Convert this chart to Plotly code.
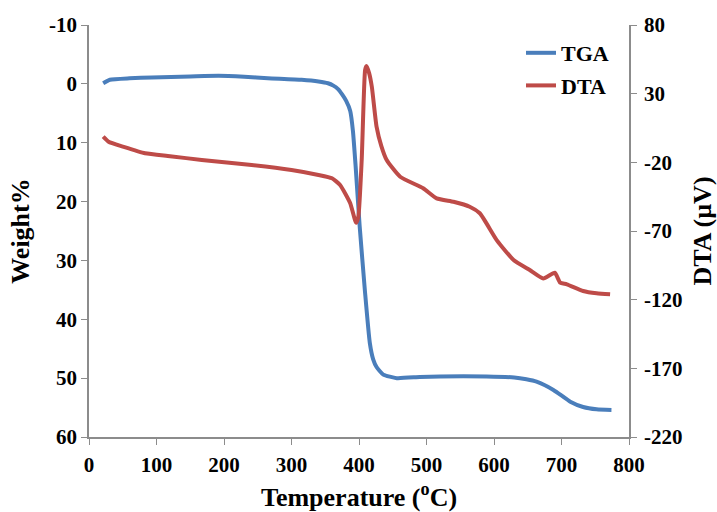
import plotly.graph_objects as go

tga_temp = [21, 31, 60, 93, 150, 192, 230, 265, 315, 340, 354, 362, 369, 375, 381, 387, 391, 395, 401, 409, 416, 421, 426, 436, 456, 490, 520, 589, 630, 648, 663, 688, 713, 732, 752, 774]
tga_weight = [-0.1, -0.7, -0.95, -1.1, -1.25, -1.36, -1.2, -0.96, -0.68, -0.4, -0.1, 0.3, 0.9, 1.8, 2.9, 4.6, 8.0, 14.0, 24.2, 35.5, 44.0, 46.8, 48.1, 49.4, 50.0, 49.8, 49.7, 49.7, 49.9, 50.2, 50.6, 52.0, 54.0, 54.9, 55.3, 55.4]

dta_temp = [21, 29, 50, 83, 120, 167, 241, 300, 340, 360, 372, 387, 395.6, 399, 404, 409, 411, 415, 419, 426, 433, 441, 461, 495, 515, 540, 564, 579, 604, 629, 653, 673, 690, 698, 708, 732, 752, 772]
dta_uv = [-1.3, -5, -8.5, -13.4, -15.5, -18.3, -21.9, -25.6, -29.2, -31.6, -36.5, -49.8, -64, -59.6, -18.3, 47.2, 50.1, 45, 35, 6, -8, -18.3, -30.5, -38.9, -46.2, -48.7, -52.3, -57.1, -76.6, -91.1, -98.4, -104.5, -100.4, -107.6, -108.8, -113.7, -115.4, -116.1]

x_ticks = [0, 100, 200, 300, 400, 500, 600, 700, 800]
left_ticks = [-10, 0, 10, 20, 30, 40, 50, 60]
right_ticks = [80, 30, -20, -70, -120, -170, -220]

FONT = "Liberation Serif"
AX = "#8c8c8c"

fig = go.Figure()
fig.add_trace(go.Scatter(x=tga_temp, y=tga_weight, mode="lines", name="<b>TGA</b>",
                         line=dict(color="#4A7EBB", width=4, shape="spline", smoothing=0.5),
                         legendgroup="a", yaxis="y"))
fig.add_trace(go.Scatter(x=dta_temp, y=dta_uv, mode="lines", name="<b>DTA</b>",
                         line=dict(color="#BE4B48", width=4, shape="spline", smoothing=0.5),
                         legendgroup="b", yaxis="y2"))

tickfont = dict(family=FONT, size=21, color="black")
titlefont = dict(family=FONT, size=26, color="black")

fig.update_layout(
    width=717, height=512,
    margin=dict(l=89, r=88, t=25, b=75),
    paper_bgcolor="white", plot_bgcolor="white",
    font=dict(family=FONT, color="black"),
    showlegend=True,
    legend=dict(x=0.80, y=0.983, xanchor="left", yanchor="top",
                font=dict(family=FONT, size=22, color="black"),
                tracegroupgap=1, bgcolor="rgba(0,0,0,0)"),
    xaxis=dict(range=[0, 800], tickvals=x_ticks, ticktext=[f"<b>{v}</b>" for v in x_ticks],
               showline=True, linecolor=AX, linewidth=1.5, ticks="outside", tickcolor=AX,
               ticklen=6, showgrid=False, zeroline=False, tickfont=tickfont, automargin=False,
               ticklabelstandoff=2,
               title=dict(text="<b>Temperature (<sup>o</sup>C)</b>", font=titlefont, standoff=20)),
    yaxis=dict(range=[60, -10], tickvals=left_ticks, ticktext=[f"<b>{v}</b>" for v in left_ticks],
               showline=True, linecolor=AX, linewidth=1.5, ticks="outside", tickcolor=AX,
               ticklen=6, showgrid=False, zeroline=False, tickfont=tickfont, automargin=False,
               title=dict(text="<b>Weight%</b>", font=titlefont, standoff=12)),
    yaxis2=dict(range=[-220, 80], tickvals=right_ticks, ticktext=[f"<b>{v}</b>" for v in right_ticks],
                overlaying="y", side="right",
                showline=True, linecolor=AX, linewidth=1.5, ticks="outside", tickcolor=AX,
                ticklen=6, showgrid=False, zeroline=False, tickfont=tickfont, automargin=False,
                ticklabelstandoff=3,
                title=dict(text="<b>DTA (µV)</b>", font=titlefont, standoff=17)),
)

fig.write_html("out.html", config={"displayModeBar": False},
               post_script="document.body.style.margin='0';document.body.style.overflow='hidden';")
